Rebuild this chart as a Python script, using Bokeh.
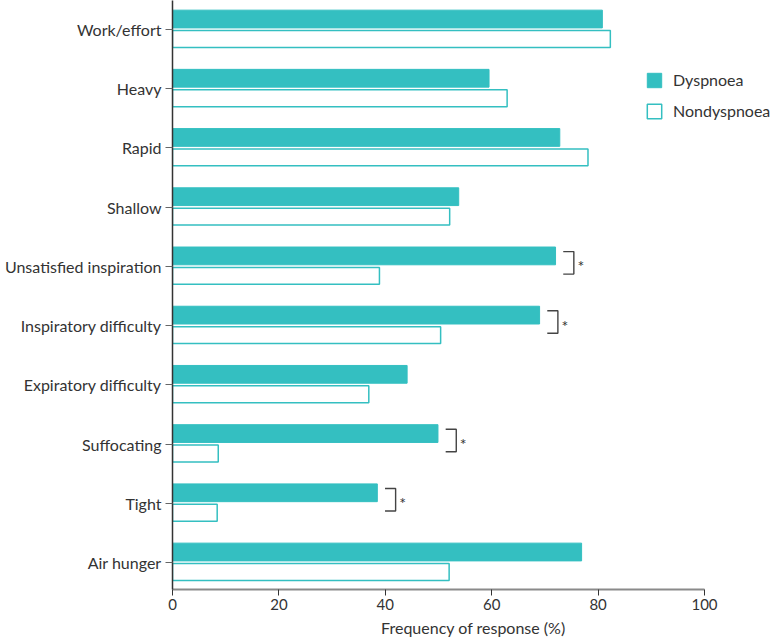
from bokeh.plotting import figure
from bokeh.models import Range1d, FixedTicker, ColumnDataSource, Legend, LegendItem
from bokeh.embed import file_html
from bokeh.resources import INLINE
from bokeh.core.properties import value

categories = ["Work/effort", "Heavy", "Rapid", "Shallow", "Unsatisfied inspiration",
              "Inspiratory difficulty", "Expiratory difficulty", "Suffocating", "Tight", "Air hunger"]
dyspnoea = [80.8, 59.5, 72.8, 53.8, 72.0, 69.0, 44.1, 49.9, 38.5, 76.9]
nondyspnoea = [82.3, 62.9, 78.1, 52.1, 38.9, 50.4, 36.9, 8.6, 8.4, 52.0]
significant = [False, False, False, False, True, True, False, True, True, False]
x_ticks = [0, 20, 40, 60, 80, 100]

TEAL = "#34BFC1"
TXT = "#333333"
FONT = "Lato"

idx = list(range(len(categories)))
PXU = 59.2    # px per category unit
PXX = 5.32    # px per % unit

p = figure(width=774, height=643, output_backend="svg", toolbar_location=None,
           x_range=Range1d(0, 602 / PXX),
           y_range=Range1d(9 + 27 / PXU, -29 / PXU),
           min_border_left=172, min_border_right=0, min_border_top=0, min_border_bottom=54)
p.outline_line_color = None
p.xgrid.visible = False
p.ygrid.visible = False
p.background_fill_color = "white"

src = ColumnDataSource(dict(
    y=idx, d=dyspnoea, n=nondyspnoea,
    yd=[i - 0.177 for i in idx], yn=[i + 0.16 for i in idx]))

r1 = p.hbar(y="yd", right="d", left=0, height=0.3, source=src,
            fill_color=TEAL, line_color=TEAL, line_width=1)
r2 = p.hbar(y="yn", right="n", left=0, height=0.285, source=src,
            fill_color="white", line_color=TEAL, line_width=1.5)

# significance brackets
sx, sy = [], []
for i, sig in enumerate(significant):
    if sig:
        x0 = dyspnoea[i] + 7.7 / PXX
        x1 = dyspnoea[i] + 18.3 / PXX
        y0 = i - 0.25
        y1 = i + 0.13
        p.line([x0, x1, x1, x0], [y0, y0, y1, y1], line_color="#444444", line_width=1.4)
        sx.append(x1 + 7 / PXX)
        sy.append(i - 0.01)
p.text(x=sx, y=sy, text=["*"] * len(sx), text_font=value(FONT), text_font_size="16px",
       text_color=TXT, text_align="center", text_baseline="middle")

# axes
xa = p.xaxis[0]
xa.ticker = FixedTicker(ticks=x_ticks)
xa.bounds = (0, 100)
xa.axis_line_color = "#8a8a8a"
xa.axis_line_width = 2
xa.major_tick_line_color = "#333333"
xa.major_tick_in = 0
xa.major_tick_out = 6
xa.minor_tick_line_color = None
xa.major_label_text_font = FONT
xa.major_label_text_font_size = "15px"
xa.major_label_text_color = TXT
xa.major_label_standoff = 3
xa.axis_label = "Frequency of response (%)"
xa.axis_label_text_font = FONT
xa.axis_label_text_font_size = "16px"
xa.axis_label_text_font_style = "normal"
xa.axis_label_text_color = TXT
xa.axis_label_standoff = 5

ya = p.yaxis[0]
ya.ticker = FixedTicker(ticks=idx)
ya.major_label_overrides = {i: c for i, c in zip(idx, categories)}
ya.axis_line_color = "#333333"
ya.axis_line_width = 1.5
ya.major_tick_line_color = "#666666"
ya.major_tick_in = 0
ya.major_tick_out = 7
ya.minor_tick_line_color = None
ya.major_label_text_font = FONT
ya.major_label_text_font_size = "16px"
ya.major_label_text_color = TXT
ya.major_label_standoff = 4

legend = Legend(items=[LegendItem(label="Dyspnoea", renderers=[r1]),
                       LegendItem(label="Nondyspnoea", renderers=[r2])],
                location=(473, 469), orientation="vertical")
legend.glyph_width = 18
legend.glyph_height = 18
legend.label_height = 18
legend.spacing = 12
legend.padding = 0
legend.margin = 0
legend.label_standoff = 10
legend.border_line_color = None
legend.background_fill_alpha = 0
legend.label_text_font = FONT
legend.label_text_font_size = "16px"
legend.label_text_color = TXT
p.add_layout(legend, "center")

open("out.html", "w").write(file_html(p, INLINE))
